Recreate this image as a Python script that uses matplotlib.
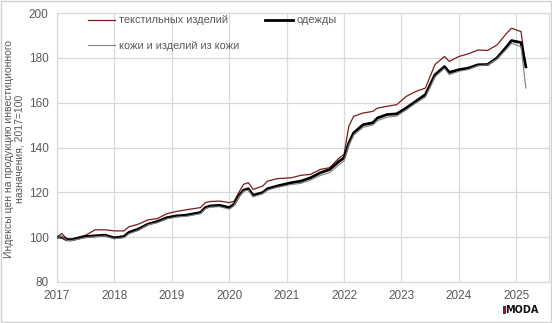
import matplotlib
matplotlib.use("Agg")
import matplotlib.pyplot as plt
from matplotlib.patches import Rectangle

dates = ["2017-01", "2017-02", "2017-03", "2017-04", "2017-07", "2017-09", "2017-11",
         "2018-01", "2018-03", "2018-04", "2018-06", "2018-08", "2018-10", "2018-12",
         "2019-02", "2019-04", "2019-07", "2019-08", "2019-09", "2019-11",
         "2020-01", "2020-02", "2020-03", "2020-04", "2020-05", "2020-06", "2020-08", "2020-09", "2020-11",
         "2021-02", "2021-04", "2021-06", "2021-08", "2021-10", "2021-12",
         "2022-01", "2022-02", "2022-03", "2022-05", "2022-07", "2022-08", "2022-10", "2022-12",
         "2023-02", "2023-04", "2023-06", "2023-08", "2023-10", "2023-11",
         "2024-01", "2024-03", "2024-05", "2024-07", "2024-09", "2024-11", "2024-12",
         "2025-02", "2025-03"]

textile = [100, 101.6, 99.4, 99.1, 100.9, 103.3, 103.3,
           102.8, 102.8, 104.6, 105.8, 107.7, 108.3, 110.5,
           111.5, 112.2, 113.2, 115.4, 115.9, 116.1,
           115.4, 116.0, 119.9, 123.6, 124.3, 121.3, 122.8, 125.0, 126.1,
           126.5, 127.6, 128.0, 130.2, 131.0, 135.4,
           136.9, 149.5, 153.9, 155.4, 156.1, 157.6, 158.4, 159.1,
           162.8, 165.0, 166.5, 177.0, 180.6, 178.4,
           180.6, 181.8, 183.5, 183.3, 185.8, 191.0, 193.2,
           191.7, 176.0]

clothes = [100, 100.0, 98.8, 98.8, 100.3, 100.6, 100.9,
           99.7, 100.3, 102.1, 103.6, 105.8, 107.0, 108.7,
           109.5, 109.8, 111.0, 113.2, 113.9, 114.2,
           113.2, 114.7, 118.4, 121.0, 121.6, 118.7, 119.9, 121.6, 122.8,
           124.3, 125.0, 126.5, 128.7, 130.2, 133.9,
           135.4, 142.0, 146.5, 150.2, 151.0, 153.2, 154.7, 155.0,
           157.6, 160.6, 163.6, 172.4, 176.1, 173.5,
           174.7, 175.4, 176.9, 177.0, 180.0, 185.0, 187.7,
           186.8, 176.0]

leather = [100, 100.3, 98.6, 98.5, 99.8, 100.2, 100.5,
           99.3, 99.8, 101.5, 103.0, 105.5, 106.5, 108.2,
           109.0, 109.3, 110.5, 112.7, 113.4, 113.6,
           112.5, 114.0, 118.0, 120.5, 121.0, 118.0, 119.4, 121.0, 122.2,
           123.5, 124.0, 125.5, 127.5, 128.8, 132.4,
           134.0, 141.0, 145.5, 149.0, 150.0, 152.0, 153.5, 154.0,
           156.8, 159.8, 162.5, 171.5, 175.3, 172.5,
           174.0, 174.8, 176.5, 176.8, 179.5, 184.0, 186.5,
           185.0, 166.5]

series_names = ["текстильных изделий", "одежды", "кожи и изделий из кожи"]
year_ticks = [2017, 2018, 2019, 2020, 2021, 2022, 2023, 2024, 2025]
y_ticks = [80, 100, 120, 140, 160, 180, 200]
ylabel = "Индексы цен на продукцию инвестиционного\nназначения, 2017=100"

x = [int(d[:4]) + (int(d[5:]) - 1) / 12 for d in dates]

plt.rcParams['font.family'] = ['Liberation Sans', 'DejaVu Sans']
txt_color = "#595959"
grid_color = "#d9d9d9"

fig = plt.figure(figsize=(5.52, 3.23), dpi=100)
fig.patches.append(Rectangle((0.002, 0.002), 0.996, 0.994, transform=fig.transFigure,
                             fill=False, edgecolor="#d0d0d0", linewidth=1.0))
ax = fig.add_axes([57 / 552, 1 - 282 / 323, 492 / 552, 269 / 323])

l1, = ax.plot(x, textile, color="#7b1c1c", linewidth=0.9, label=series_names[0], zorder=3)
l2, = ax.plot(x, clothes, color="#000000", linewidth=2.0, label=series_names[1], zorder=3)
l3, = ax.plot(x, leather, color="#7f7f7f", linewidth=0.8, label=series_names[2], zorder=3)

ax.set_xlim(2017, 2025.57)
ax.set_ylim(80, 200)
ax.set_xticks(year_ticks)
ax.set_xticklabels([str(y) for y in year_ticks])
ax.set_yticks(y_ticks)
ax.grid(True, color=grid_color, linewidth=0.9)
ax.set_axisbelow(True)
for s in ax.spines.values():
    s.set_color(grid_color)
    s.set_linewidth(0.9)
ax.tick_params(length=0, labelsize=8.5, colors=txt_color, pad=6)

fig.text(14.5 / 552, 1 - 149 / 323, ylabel, rotation=90, fontsize=7.5, color=txt_color,
         ha="center", va="center", multialignment="center", linespacing=1.0)

leg = ax.legend(handles=[l1, l3, l2], loc="upper left", bbox_to_anchor=(0.043, 1.028),
                ncol=2, frameon=False, fontsize=7.9, handlelength=2.5, handletextpad=0.3,
                columnspacing=2.4, labelspacing=1.45, labelcolor=txt_color)

fig.text(522 / 552, 1 - 310 / 323, "MODA", fontsize=7, fontweight="bold", color="#111111",
         ha="center", va="center", family="DejaVu Sans")
fig.patches.append(Rectangle((503 / 552, 1 - 314 / 323), 3 / 552, 8 / 323, transform=fig.transFigure,
                             facecolor="#8b1a2a", edgecolor="none"))

fig.savefig("out.png", dpi=100)
